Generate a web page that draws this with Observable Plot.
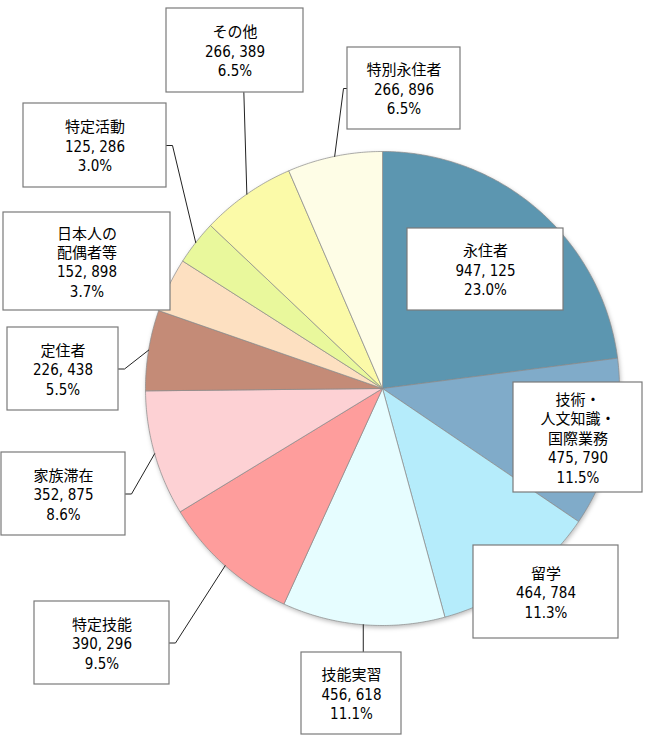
<!DOCTYPE html>
<html><head><meta charset="utf-8">
<script src="https://cdn.jsdelivr.net/npm/d3@7"></script>
<script src="https://cdn.jsdelivr.net/npm/@observablehq/plot@0.6"></script>
<style>
html,body{margin:0;padding:0;background:#fff;}
#chart svg{display:block;}
</style>
</head><body><div id="chart"></div>
<script>
// ---- data ----
const categories = ["永住者","技術・\n人文知識・\n国際業務","留学","技能実習","特定技能","家族滞在","定住者","日本人の\n配偶者等","特定活動","その他","特別永住者"];
const counts = [947125,475790,464784,456618,390296,352875,226438,152898,125286,266389,266896];
const countLabels = ["947, 125","475, 790","464, 784","456, 618","390, 296","352, 875","226, 438","152, 898","125, 286","266, 389","266, 896"];
const percentLabels = ["23.0%","11.5%","11.3%","11.1%","9.5%","8.6%","5.5%","3.7%","3.0%","6.5%","6.5%"];
const colors = ["#5c96b0","#80abc9","#b5ecfb","#e6fdff","#fe9d9c","#fdd1d4","#c48b77","#fde0c1","#e9f89c","#fbfaa8","#fefde6"];

// ---- layout (label boxes: x1,y1,x2,y2 ; leader side, null = inside) ----
const boxes = [
  [407,228,563,310,null],
  [513,382,642,492,null],
  [473,545,618,638,null],
  [301,652,401,734,"top"],
  [34,601,169,684,"right"],
  [1,452,125,535,"right"],
  [7,327,118,410,"right"],
  [3,212,170,310,null],
  [23,103,166,187,"right"],
  [166,8,303,92,"bottom"],
  [347,47,460,129,"left"]
];
const cx = 382, cy = 388, R = 237;

const pie = d3.pie().sort(null).value(d => d)(counts);
const slices = [];
pie.forEach((p, i) => {
  const n = Math.max(2, Math.ceil((p.endAngle - p.startAngle) / 0.01));
  slices.push({name: categories[i], i, x: cx, y: cy});
  for (let k = 0; k <= n; k++) {
    const a = p.startAngle + (p.endAngle - p.startAngle) * k / n;
    slices.push({name: categories[i], i, x: cx + R * Math.sin(a), y: cy - R * Math.cos(a)});
  }
  slices.push({name: categories[i], i, x: cx, y: cy});
});

const labels = categories.map((c, i) => {
  const [x1,y1,x2,y2,side] = boxes[i];
  return {i, x1,y1,x2,y2,side, tx:(x1+x2)/2, ty:(y1+y2)/2, text: c + "\n" + countLabels[i] + "\n" + percentLabels[i]};
});

const leaders = [];
labels.forEach(l => {
  if (!l.side) return;
  const p = pie[l.i];
  const a = (p.startAngle + p.endAngle) / 2;
  const ex = cx + R * Math.sin(a), ey = cy - R * Math.cos(a);
  let pts;
  if (l.side === "right") pts = [[l.x2, l.ty],[l.x2+6, l.ty],[ex, ey]];
  else if (l.side === "left") pts = [[l.x1, l.ty],[l.x1-4, l.ty],[ex, ey]];
  else if (l.side === "top") pts = [[ex, l.y1],[ex, ey]];
  else pts = [[ex - 3, l.y2],[ex, ey]];
  pts.forEach(([x,y]) => leaders.push({id:l.i, x, y}));
});

const chart = Plot.plot({
  width: 649, height: 744, margin: 0,
  x: {domain: [0, 649], range: [0, 649], axis: null},
  y: {domain: [0, 744], range: [0, 744], axis: null},
  style: {fontFamily: "'DejaVu Sans Condensed','Noto Sans CJK JP',sans-serif", background: "#fff"},
  marks: [
    Plot.line(slices, {x: "x", y: "y", z: "name", fill: d => colors[d.i], stroke: "#8a8a8a", strokeOpacity: 0.7, strokeWidth: 1, curve: "linear"}),
    Plot.line(leaders, {x: "x", y: "y", z: "id", stroke: "#222", strokeWidth: 1}),
    Plot.rect(labels, {x1: "x1", x2: "x2", y1: "y1", y2: "y2", fill: "#fff", stroke: "#7a7a7a", strokeWidth: 1.2}),
    Plot.text(labels, {x: "tx", y: "ty", text: "text", fontSize: 15, lineHeight: 1.3, fill: "#000"})
  ]
});
const pieG = chart.querySelector("g[aria-label='line']");
if (pieG) pieG.style.filter = "drop-shadow(1px 2px 2px rgba(0,0,0,0.25))";
document.getElementById("chart").appendChild(chart);
</script>
</body></html>
